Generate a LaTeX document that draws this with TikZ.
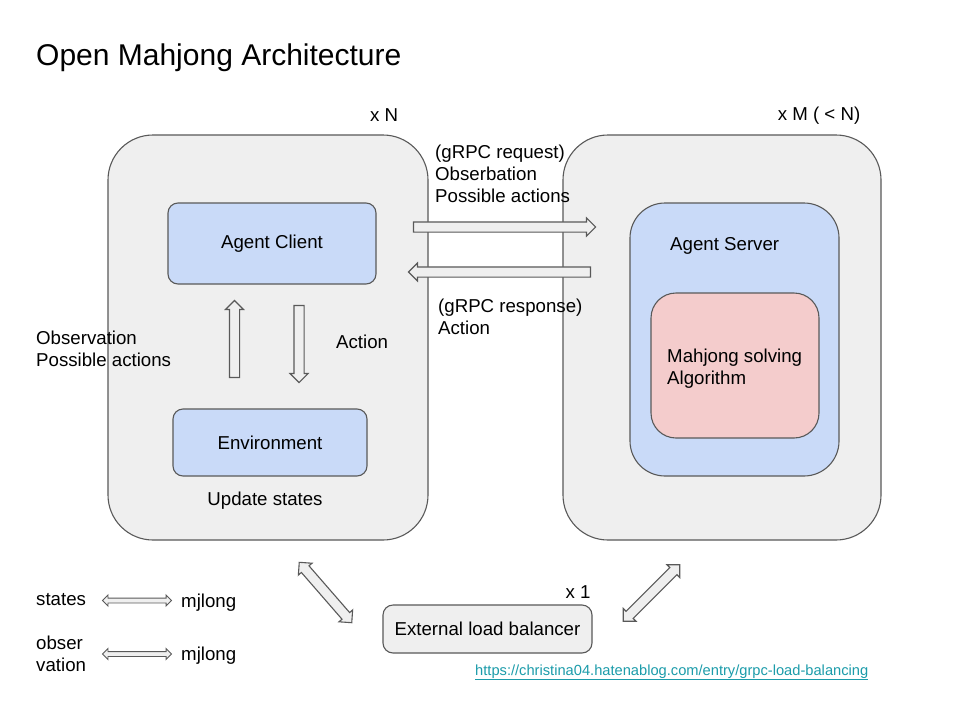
\documentclass[tikz,border=0pt]{standalone}
\usepackage{fontspec}
\setmainfont{Liberation Sans}
\usetikzlibrary{shapes.arrows}

\definecolor{linegray}{HTML}{595959}
\definecolor{boxgray}{HTML}{EFEFEF}
\definecolor{boxblue}{HTML}{C9DAF8}
\definecolor{boxred}{HTML}{F4CCCC}
\definecolor{linkteal}{HTML}{1C9CAA}

\begin{document}
\begin{tikzpicture}[x=1pt,y=-1pt,
		every node/.style={font=\fontsize{18.67}{22}\selectfont,inner sep=0pt},
		host/.style={draw=linegray,fill=boxgray,line width=1.1pt,rounded corners=45pt,minimum height=405pt},
		inner box/.style={draw=linegray,fill=boxblue,line width=1.1pt},
		txt/.style={anchor=base west,align=left},
		fat arrow/.style={single arrow,draw=linegray,fill=boxgray,line width=1.1pt,inner xsep=0pt,inner ysep=4.5pt,single arrow head extend=4pt},
		both arrow/.style={double arrow,draw=linegray,fill=boxgray,line width=1.1pt,inner xsep=0pt,inner ysep=4.5pt,double arrow head extend=4pt},
		key arrow/.style={double arrow,draw=linegray,fill=boxgray,line width=0.9pt,inner xsep=0pt,inner ysep=2pt,double arrow head extend=3pt,minimum height=69pt}
		]
		\useasboundingbox[fill=white] (0,0) rectangle (960,720);
		
		% Title
		\node[txt,font=\fontsize{30}{36}\selectfont] (title) at (36,65.5) {Open Mahjong Architecture};
		
		% Client side
		\node[host,minimum width=320pt] (clients) at (268,337.5) {};
		\node[anchor=base] (xn) at (384,121.5) {x N};
		\node[inner box,rounded corners=10pt,minimum width=208pt,minimum height=81pt] (client) at (272,243.5) {Agent Client};
		\node[inner box,rounded corners=10pt,minimum width=194pt,minimum height=67pt] (env) at (270,442.5) {Environment};
		\node[anchor=base] (update) at (265,505) {Update states};
		\node[fat arrow,minimum height=77pt,rotate=90] (obsarrow) at (234.5,341.5) {};
		\node[fat arrow,minimum height=77pt,rotate=-90] (actarrow) at (299,341.5) {};
		\node[txt] (obs) at (36,366) {Observation\\Possible actions};
		\node[txt] (act) at (336,348) {Action};
		
		% Server side
		\node[host,minimum width=318pt] (servers) at (722,337.5) {};
		\node[anchor=base] (xm) at (819,120) {x M ( < N)};
		\node[inner box,rounded corners=35pt,minimum width=209pt,minimum height=273pt] (server) at (734.5,339.5) {};
		\node[txt] (serverlabel) at (670,250) {Agent Server};
		\node[inner box,fill=boxred,rounded corners=25pt,minimum width=168pt,minimum height=145pt] (algo) at (735,365.5) {};
		\node[txt] (algolabel) at (667,384) {Mahjong solving\\Algorithm};
		
		% gRPC
		\node[fat arrow,minimum height=182pt] (request) at (502,227) {};
		\node[fat arrow,minimum height=182pt,rotate=180] (response) at (502,272) {};
		\node[txt] (reqlabel) at (435,202) {(gRPC request)\\Obserbation\\Possible actions};
		\node[txt] (reslabel) at (438,334) {(gRPC response)\\Action};
		
		% Load balancer
		\node[draw=linegray,fill=boxgray,line width=1.1pt,rounded corners=10pt,minimum width=209pt,minimum height=48pt] (lb) at (487.5,629) {External load balancer};
		\node[anchor=base] (x1) at (578,598) {x 1};
		\node[both arrow,minimum height=80pt,rotate=-49] (lbleft) at (325.5,592.5) {};
		\node[both arrow,minimum height=80pt,rotate=45] (lbright) at (651.5,593) {};
		
		% Legend
		\node[txt] (states) at (36,605) {states};
		\node[key arrow] (statesarrow) at (137,600.5) {};
		\node[txt] (mj1) at (181,607) {mjlong};
		\node[txt] (obsv) at (36,671) {obser\\vation};
		\node[key arrow] (obsvarrow) at (137,654) {};
		\node[txt] (mj2) at (181,660) {mjlong};
		
		% Source
		\node[txt,font=\fontsize{14.67}{17}\selectfont,text=linkteal] (url) at (475,675) {\underline{https://christina04.hatenablog.com/entry/grpc-load-balancing}};
		
	\end{tikzpicture}
\end{document}
